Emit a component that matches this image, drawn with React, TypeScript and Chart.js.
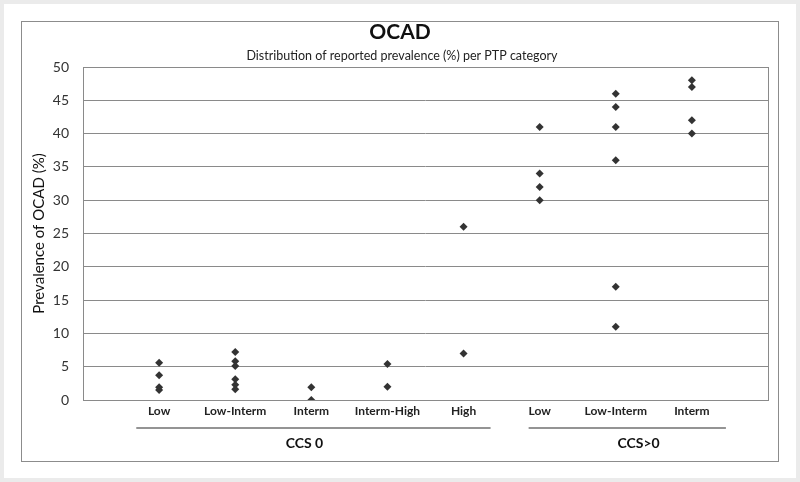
import { useEffect, useRef } from "react";
import { Chart, registerables } from "chart.js";

Chart.register(...registerables);

const categories = ["Low", "Low-Interm", "Interm", "Interm-High", "High", "Low", "Low-Interm", "Interm"];
const ccs0Low = [5.6, 3.7, 1.9, 1.5];
const ccs0LowInterm = [7.2, 5.8, 5.1, 3.1, 2.3, 1.6];
const ccs0Interm = [1.9, 0];
const ccs0IntermHigh = [5.4, 2.0];
const ccs0High = [26, 7];
const ccsPosLow = [41, 34, 32, 30];
const ccsPosLowInterm = [46, 44, 41, 36, 17, 11];
const ccsPosInterm = [48, 47, 42, 40];
const seriesByCategory = [ccs0Low, ccs0LowInterm, ccs0Interm, ccs0IntermHigh, ccs0High, ccsPosLow, ccsPosLowInterm, ccsPosInterm];
const groupLabels = ["CCS 0", "CCS>0"];
const titleText = "OCAD";
const subtitleText = "Distribution of reported prevalence (%) per PTP category";
const yAxisTitle = "Prevalence of OCAD (%)";

const FONT = "Lato, 'Noto Sans', sans-serif";

const framePlugin = {
  id: "frame",
  beforeDatasetsDraw(chart: any) {
    const { ctx, chartArea } = chart;
    ctx.save();
    ctx.strokeStyle = "#8a8a8a";
    ctx.lineWidth = 1;
    ctx.strokeRect(
      Math.round(chartArea.left) + 0.5,
      Math.round(chartArea.top) + 0.5,
      Math.round(chartArea.right - chartArea.left),
      Math.round(chartArea.bottom - chartArea.top)
    );
    ctx.restore();
  },
  afterDraw(chart: any) {
    const { ctx } = chart;
    const xs = chart.scales.x;
    ctx.save();
    ctx.fillStyle = "#111";
    ctx.textAlign = "center";
    ctx.textBaseline = "middle";
    ctx.font = `bold 21px ${FONT}`;
    ctx.fillText(titleText, 400, 32);
    ctx.font = `12.5px ${FONT}`;
    ctx.fillStyle = "#222";
    ctx.fillText(subtitleText, 402, 56);

    const groups = [
      { from: 0.7, to: 5.355, mid: 2.91, text: groupLabels[0] },
      { from: 5.855, to: 8.447, mid: 7.3, text: groupLabels[1] },
    ];
    ctx.strokeStyle = "#707070";
    ctx.lineWidth = 1.5;
    ctx.font = `bold 14px ${FONT}`;
    ctx.fillStyle = "#111";
    for (const g of groups) {
      ctx.beginPath();
      ctx.moveTo(xs.getPixelForValue(g.from), 428);
      ctx.lineTo(xs.getPixelForValue(g.to), 428);
      ctx.stroke();
      ctx.fillText(g.text, xs.getPixelForValue(g.mid), 443);
    }
    ctx.restore();
  },
};

export default function App() {
  const canvasRef = useRef<HTMLCanvasElement | null>(null);

  useEffect(() => {
    const canvas = canvasRef.current;
    if (!canvas) return;
    const points: { x: number; y: number }[] = [];
    seriesByCategory.forEach((vals, i) => {
      vals.forEach((v) => points.push({ x: i + 1, y: v }));
    });
    const chart = new Chart(canvas, {
      type: "scatter",
      data: {
        datasets: [
          {
            data: points,
            pointStyle: "rectRot",
            pointRadius: 4,
            backgroundColor: "#333333",
            borderColor: "#333333",
            borderWidth: 0,
          },
        ],
      },
      options: {
        responsive: false,
        animation: false,
        layout: { padding: { top: 67, right: 32, left: 0, bottom: 0 } },
        plugins: { legend: { display: false }, tooltip: { enabled: false } },
        scales: {
          x: {
            type: "linear",
            min: 0,
            max: 9,
            grid: { display: false, drawTicks: false },
            border: { display: false },
            ticks: {
              stepSize: 1,
              autoSkip: false,
              maxRotation: 0,
              padding: 4,
              color: "#222",
              font: { family: FONT, size: 12, weight: "bold" },
              callback: (v: any) => categories[Number(v) - 1] ?? "",
            },
            afterFit: (s: any) => {
              s.height = 82;
            },
          },
          y: {
            min: 0,
            max: 50,
            grid: { color: "#8a8a8a", drawTicks: false, lineWidth: 1 },
            border: { display: false },
            ticks: {
              stepSize: 5,
              padding: 14,
              color: "#333",
              font: { family: FONT, size: 14 },
            },
            title: {
              display: true,
              text: yAxisTitle,
              color: "#111",
              font: { family: FONT, size: 15 },
              padding: { top: 30, bottom: 0 },
            },
            afterFit: (s: any) => {
              s.width = 83;
            },
          },
        },
      },
      plugins: [framePlugin],
    });
    return () => chart.destroy();
  }, []);

  return (
    <div style={{ position: "absolute", left: 0, top: 0, width: 800, height: 482, background: "#ebebeb" }}>
      <div style={{ position: "absolute", left: 4, top: 4, width: 792, height: 474, background: "#ffffff" }} />
      <div
        style={{
          position: "absolute",
          left: 21,
          top: 21,
          width: 758,
          height: 441,
          border: "1px solid #8c8c8c",
          boxSizing: "border-box",
        }}
      />
      <canvas ref={canvasRef} width={800} height={482} style={{ position: "absolute", left: 0, top: 0 }} />
    </div>
  );
}
